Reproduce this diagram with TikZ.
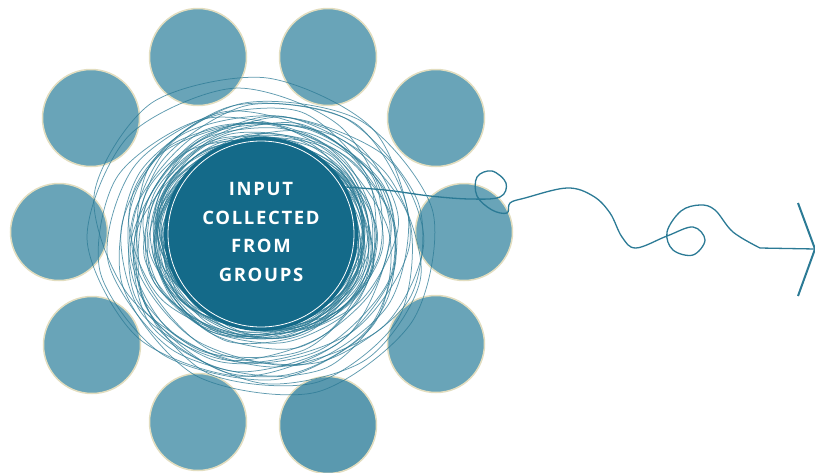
\documentclass[tikz,border=0pt]{standalone}
\usepackage{fontspec}
\newfontfamily\grpfont[LetterSpace=9]{Open Sans}
\definecolor{grpfill}{HTML}{69A4B8}
\definecolor{grpdark}{HTML}{5A99AF}
\definecolor{grpedge}{HTML}{E2DDBF}
\definecolor{coreblue}{HTML}{146A89}
\definecolor{wirecol}{HTML}{2B7A95}
\tikzset{
	group/.style={circle, fill=grpfill, draw=grpedge, line width=1.5pt, minimum size=97pt, inner sep=0pt},
	scribble/.style={wirecol, opacity=0.75, line width=0.75pt},
	wire/.style={wirecol, line width=1.3pt},
	core/.style={circle, fill=coreblue, minimum size=194pt, inner sep=0pt}
}

\begin{document}
\begin{tikzpicture}[x=1pt, y=-1pt]
	\useasboundingbox (0,0) rectangle (815,472);
	% the ten groups
	\foreach \px/\py [count=\i] in {198/57, 328/57, 91/118, 436/118, 59/232, 464/232, 92/345, 436/344, 198/422}
		\node[group] (g\i) at (\px,\py) {};
	\node[group, fill=grpdark] (g10) at (328,425) {};
	% tangle of input
	\pgfmathsetseed{31}
	\foreach \k in {1,...,44} {
		\pgfmathsetmacro\rx{100+58*rnd^1.6}
		\pgfmathsetmacro\ry{\rx*(0.84+0.12*rnd)}
		\pgfmathsetmacro\cx{262+(\rx-95)*0.45*rand}
		\pgfmathsetmacro\cy{238+(\rx-95)*0.45*rand}
		\pgfmathsetmacro\ph{25*rand}
		\draw[scribble, rotate around={\ph:(\cx,\cy)}] plot[smooth cycle, samples=8, domain=0:315]
			({\cx+(\rx+5*rand)*cos(\x+\k*37)}, {\cy+(\ry+5*rand)*sin(\x+\k*37)});
	}
	% wire out to the arrow
	\coordinate (w0) at (330,186);
	\coordinate (w1) at (760,248);
	\coordinate (tip) at (815,249);
	\coordinate (barbA) at (798,203);
	\coordinate (barbB) at (798,296);
	\draw[wire] plot[smooth, tension=0.6] coordinates {(w0) (385,190) (430,196) (470,199) (500,197) (506,183) (492,171) (477,177) (477,196) (492,210) (507,213) (510,203) (525,198) (567,188) (593,196) (610,213) (622,237) (636,248) (667,236) (693,227) (705,240) (693,255) (673,250) (667,232) (681,211) (700,205) (715,210) (733,232) (w1)};
	\draw[wire] (w1) -- (tip);
	\draw[wire, line width=2pt] (barbA) -- (tip) -- (barbB);
	% centre
	\node[core] (input) at (261,234) {};
	\draw[white, line width=0.8pt] (input.center) circle (93);
	\node[text=white, align=center, font={\grpfont\bfseries\fontsize{18.5}{28.5}\selectfont}] (label) at (261,232)
		{INPUT\\COLLECTED\\FROM\\GROUPS};
\end{tikzpicture}
\end{document}
